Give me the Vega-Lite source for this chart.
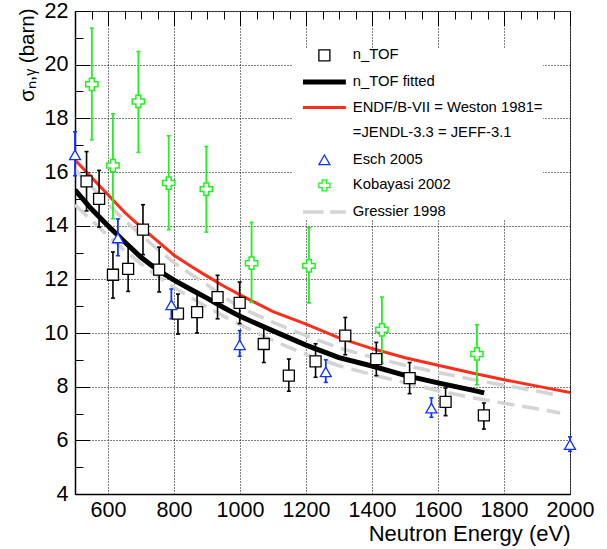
{
  "$schema": "https://vega.github.io/schema/vega-lite/v6.json",
  "width": 495,
  "height": 483,
  "autosize": "none",
  "padding": {"left": 75, "top": 11, "right": 37, "bottom": 55},
  "background": "white",
  "config": {
    "font": "Liberation Sans",
    "view": {"stroke": "#555", "strokeWidth": 1},
    "legend": {
      "orient": "none",
      "legendX": 218,
      "legendY": 37,
      "fillColor": "white",
      "padding": 0,
      "symbolOffset": 24,
      "symbolSize": 121,
      "symbolStrokeWidth": 1.3,
      "labelFont": "Liberation Sans",
      "labelFontSize": 14.8,
      "labelColor": "black",
      "labelOffset": 21,
      "labelLimit": 400,
      "rowPadding": 9.6
    }
  },
  "datasets": {
    "ntof": [
      {"E": 535, "s": 15.65, "lo": 14.55, "hi": 16.76},
      {"E": 573, "s": 15.0, "lo": 13.95, "hi": 16.06},
      {"E": 615, "s": 12.17, "lo": 11.3, "hi": 13.02},
      {"E": 661, "s": 12.39, "lo": 11.55, "hi": 13.24},
      {"E": 706, "s": 13.85, "lo": 12.92, "hi": 14.78},
      {"E": 755, "s": 12.36, "lo": 11.53, "hi": 13.2},
      {"E": 812, "s": 10.72, "lo": 9.96, "hi": 11.45},
      {"E": 870, "s": 10.78, "lo": 10.0, "hi": 11.53},
      {"E": 932, "s": 11.34, "lo": 10.53, "hi": 12.15},
      {"E": 999, "s": 11.12, "lo": 10.35, "hi": 11.9},
      {"E": 1072, "s": 9.59, "lo": 8.9, "hi": 10.27},
      {"E": 1148, "s": 8.41, "lo": 7.83, "hi": 9.03},
      {"E": 1229, "s": 8.94, "lo": 8.35, "hi": 9.6},
      {"E": 1319, "s": 9.9, "lo": 9.19, "hi": 10.58},
      {"E": 1413, "s": 9.03, "lo": 8.41, "hi": 9.65},
      {"E": 1514, "s": 8.32, "lo": 7.74, "hi": 8.9},
      {"E": 1623, "s": 7.43, "lo": 6.92, "hi": 7.95},
      {"E": 1739, "s": 6.93, "lo": 6.42, "hi": 7.39}
    ],
    "esch": [
      {"E": 500, "s": 16.64, "lo": 15.86, "hi": 17.5},
      {"E": 630, "s": 13.54, "lo": 12.88, "hi": 14.25},
      {"E": 792, "s": 11.05, "lo": 10.53, "hi": 11.64},
      {"E": 999, "s": 9.56, "lo": 9.13, "hi": 10.09},
      {"E": 1260, "s": 8.55, "lo": 8.16, "hi": 9.0},
      {"E": 1580, "s": 7.2, "lo": 6.86, "hi": 7.58},
      {"E": 2000, "s": 5.84, "lo": 5.59, "hi": 6.13}
    ],
    "koba": [
      {"E": 551, "s": 19.27, "lo": 17.2, "hi": 21.36},
      {"E": 615, "s": 16.24, "lo": 14.26, "hi": 18.17},
      {"E": 692, "s": 18.63, "lo": 16.73, "hi": 20.49},
      {"E": 784, "s": 15.59, "lo": 13.85, "hi": 17.35},
      {"E": 898, "s": 15.36, "lo": 13.76, "hi": 16.95},
      {"E": 1035, "s": 12.6, "lo": 11.14, "hi": 14.12},
      {"E": 1209, "s": 12.5, "lo": 11.12, "hi": 13.92},
      {"E": 1430, "s": 10.12, "lo": 8.88, "hi": 11.34},
      {"E": 1718, "s": 9.22, "lo": 8.07, "hi": 10.31}
    ],
    "fit": [
      {"E": 500, "s": 15.33}, {"E": 550, "s": 14.62}, {"E": 600, "s": 14.0},
      {"E": 650, "s": 13.4}, {"E": 700, "s": 12.82}, {"E": 750, "s": 12.35},
      {"E": 800, "s": 11.97}, {"E": 850, "s": 11.63}, {"E": 900, "s": 11.3},
      {"E": 950, "s": 10.95}, {"E": 1000, "s": 10.62}, {"E": 1100, "s": 10.08},
      {"E": 1200, "s": 9.55}, {"E": 1300, "s": 9.08}, {"E": 1400, "s": 8.77},
      {"E": 1500, "s": 8.42}, {"E": 1600, "s": 8.14}, {"E": 1700, "s": 7.88},
      {"E": 1740, "s": 7.77}
    ],
    "endf": [
      {"E": 500, "s": 16.45}, {"E": 550, "s": 15.8}, {"E": 600, "s": 15.15},
      {"E": 650, "s": 14.5}, {"E": 700, "s": 13.95}, {"E": 750, "s": 13.42},
      {"E": 800, "s": 12.9}, {"E": 850, "s": 12.5}, {"E": 900, "s": 12.12},
      {"E": 950, "s": 11.75}, {"E": 1000, "s": 11.42}, {"E": 1100, "s": 10.8},
      {"E": 1200, "s": 10.33}, {"E": 1300, "s": 9.82}, {"E": 1400, "s": 9.42},
      {"E": 1500, "s": 9.08}, {"E": 1600, "s": 8.8}, {"E": 1700, "s": 8.52},
      {"E": 1800, "s": 8.26}, {"E": 1900, "s": 8.02}, {"E": 2000, "s": 7.78}
    ],
    "gress": [
      {"band": "upper", "E": 500, "s": 16.1}, {"band": "upper", "E": 550, "s": 15.45},
      {"band": "upper", "E": 600, "s": 14.8}, {"band": "upper", "E": 650, "s": 14.2},
      {"band": "upper", "E": 700, "s": 13.65}, {"band": "upper", "E": 750, "s": 13.12},
      {"band": "upper", "E": 800, "s": 12.62}, {"band": "upper", "E": 850, "s": 12.2},
      {"band": "upper", "E": 900, "s": 11.8}, {"band": "upper", "E": 950, "s": 11.35},
      {"band": "upper", "E": 1000, "s": 10.95}, {"band": "upper", "E": 1100, "s": 10.4},
      {"band": "upper", "E": 1200, "s": 9.9}, {"band": "upper", "E": 1300, "s": 9.44},
      {"band": "upper", "E": 1400, "s": 9.1}, {"band": "upper", "E": 1500, "s": 8.8},
      {"band": "upper", "E": 1600, "s": 8.53}, {"band": "upper", "E": 1700, "s": 8.28},
      {"band": "upper", "E": 1800, "s": 8.05}, {"band": "upper", "E": 1900, "s": 7.84},
      {"band": "upper", "E": 1970, "s": 7.66},
      {"band": "lower", "E": 500, "s": 14.78}, {"band": "lower", "E": 550, "s": 14.2},
      {"band": "lower", "E": 600, "s": 13.62}, {"band": "lower", "E": 650, "s": 13.08},
      {"band": "lower", "E": 700, "s": 12.58}, {"band": "lower", "E": 750, "s": 12.12},
      {"band": "lower", "E": 800, "s": 11.7}, {"band": "lower", "E": 850, "s": 11.32},
      {"band": "lower", "E": 900, "s": 10.97}, {"band": "lower", "E": 950, "s": 10.63},
      {"band": "lower", "E": 1000, "s": 10.31}, {"band": "lower", "E": 1100, "s": 9.72},
      {"band": "lower", "E": 1200, "s": 9.2}, {"band": "lower", "E": 1300, "s": 8.78},
      {"band": "lower", "E": 1400, "s": 8.45}, {"band": "lower", "E": 1500, "s": 8.15},
      {"band": "lower", "E": 1600, "s": 7.85}, {"band": "lower", "E": 1700, "s": 7.6},
      {"band": "lower", "E": 1800, "s": 7.38}, {"band": "lower", "E": 1900, "s": 7.18},
      {"band": "lower", "E": 1970, "s": 7.02}
    ],
    "none": []
  },
  "encoding": {
    "x": {
      "field": "E", "type": "quantitative",
      "scale": {"domain": [500, 2000], "nice": false, "zero": false},
      "axis": {
        "orient": "bottom",
        "title": "Neutron Energy (eV)",
        "titleFontSize": 22, "titleFontWeight": "normal", "titleColor": "black",
        "titleX": 495, "titleY": 46, "titleAlign": "right", "titleBaseline": "alphabetic", "titleAngle": 0,
        "values": [500,550,600,650,700,750,800,850,900,950,1000,1050,1100,1150,1200,1250,1300,1350,1400,1450,1500,1550,1600,1650,1700,1750,1800,1850,1900,1950,2000],
        "format": "d",
        "labelExpr": "datum.value % 200 == 0 ? datum.label : ''",
        "labelFontSize": 21.5, "labelColor": "black", "labelPadding": 5,
        "labelFlush": false, "labelOverlap": false,
        "ticks": false, "tickSize": 0,
        "domainColor": "black", "domainWidth": 1.5,
        "grid": true, "gridColor": "black", "gridWidth": 1, "gridOpacity": 1,
        "gridDash": {
          "condition": {"test": "datum.value % 200 == 0", "value": [15,2,1,2,1,2,1,2,1,2,1,2,1,2,1,2,1,2,1,2,1,2,1,2,1,2,1,2,1,2,1,2,1,2,1,2,1,2,1,2,1,2,1,2,1,2,1,2,1,2,1,2,1,2,1,2,1,2,1,2,1,2,1,2,1,2,1,2,1,2,1,2,1,2,1,2,1,2,1,2,1,2,1,2,1,2,1,2,1,2,1,2,1,2,1,2,1,2,1,2,1,2,1,2,1,2,1,2,1,2,1,2,1,2,1,2,1,2,1,2,1,2,1,2,1,2,1,2,1,2,1,2,1,2,1,2,1,2,1,2,1,2,1,2,1,2,1,2,1,2,1,2,1,2,1,2,1,2,1,2,1,2,1,2,1,2,1,2,1,2,1,2,1,2,1,2,1,2,1,2,1,2,1,2,1,2,1,2,1,2,1,2,1,2,1,2,1,2,1,2,1,2,1,2,1,2,1,2,1,2,1,2,1,2,1,2,1,2,1,2,1,2,1,2,1,2,1,2,1,2,1,2,1,2,1,2,1,2,1,2,1,2,1,2,1,2,1,2,1,2,1,2,1,2,1,2,1,2,1,2,1,2,1,2,1,2,1,2,1,2,1,2,1,2,1,2,1,2,1,2,1,2,1,2,1,2,1,2,1,2,1,2,1,2,1,2,1,2,1,2,1,2,1,2,1,2,1,2,1,2,1,2,1,2,1,2,1,2,1,2,1,2,1,2,1,2,1,2,1,2,1,2,1,2,1,2,1,2,1,2,1,2,1,2]},
          "value": [8, 2000]
        }
      }
    },
    "y": {
      "field": "s", "type": "quantitative",
      "scale": {"domain": [4, 22], "nice": false, "zero": false},
      "axis": {
        "orient": "left",
        "title": "σₙ,ᵧ (barn)",
        "titleFontSize": 20.5, "titleFontWeight": "normal", "titleColor": "black",
        "titleX": -48, "titleY": -3, "titleAngle": -90, "titleAlign": "right", "titleBaseline": "middle",
        "values": [4,4.5,5,5.5,6,6.5,7,7.5,8,8.5,9,9.5,10,10.5,11,11.5,12,12.5,13,13.5,14,14.5,15,15.5,16,16.5,17,17.5,18,18.5,19,19.5,20,20.5,21,21.5,22],
        "format": "d",
        "labelExpr": "datum.value % 2 == 0 ? datum.label : ''",
        "labelFontSize": 21.5, "labelColor": "black", "labelPadding": 7,
        "labelFlush": false, "labelOverlap": false,
        "ticks": false, "tickSize": 0,
        "domainColor": "black", "domainWidth": 1.5,
        "grid": true, "gridColor": "black", "gridWidth": 1, "gridOpacity": 1,
        "gridDash": {
          "condition": {"test": "datum.value % 2 == 0", "value": [15,2,1,2,1,2,1,2,1,2,1,2,1,2,1,2,1,2,1,2,1,2,1,2,1,2,1,2,1,2,1,2,1,2,1,2,1,2,1,2,1,2,1,2,1,2,1,2,1,2,1,2,1,2,1,2,1,2,1,2,1,2,1,2,1,2,1,2,1,2,1,2,1,2,1,2,1,2,1,2,1,2,1,2,1,2,1,2,1,2,1,2,1,2,1,2,1,2,1,2,1,2,1,2,1,2,1,2,1,2,1,2,1,2,1,2,1,2,1,2,1,2,1,2,1,2,1,2,1,2,1,2,1,2,1,2,1,2,1,2,1,2,1,2,1,2,1,2,1,2,1,2,1,2,1,2,1,2,1,2,1,2,1,2,1,2,1,2,1,2,1,2,1,2,1,2,1,2,1,2,1,2,1,2,1,2,1,2,1,2,1,2,1,2,1,2,1,2,1,2,1,2,1,2,1,2,1,2,1,2,1,2,1,2,1,2,1,2,1,2,1,2,1,2,1,2,1,2,1,2,1,2,1,2,1,2,1,2,1,2,1,2,1,2,1,2,1,2,1,2,1,2,1,2,1,2,1,2,1,2,1,2,1,2,1,2,1,2,1,2,1,2,1,2,1,2,1,2,1,2,1,2,1,2,1,2,1,2,1,2,1,2,1,2,1,2,1,2,1,2,1,2,1,2,1,2,1,2,1,2,1,2,1,2,1,2,1,2,1,2,1,2,1,2,1,2,1,2,1,2,1,2,1,2,1,2,1,2,1,2,1,2,1,2,1,2]},
          "value": [8, 2000]
        }
      }
    }
  },
  "layer": [
    {
      "data": {"name": "gress"},
      "mark": {"type": "line", "color": "#d4d4d4", "strokeWidth": 3.5, "strokeDash": [17, 8], "clip": true},
      "encoding": {"detail": {"field": "band"}}
    },
    {
      "data": {"name": "endf"},
      "mark": {"type": "line", "color": "#ff2d1a", "strokeWidth": 3, "clip": true},
      "encoding": {}
    },
    {
      "data": {"name": "fit"},
      "mark": {"type": "line", "color": "black", "strokeWidth": 5, "clip": true},
      "encoding": {}
    },
    {
      "data": {"name": "ntof"},
      "mark": {"type": "rule", "color": "black", "strokeWidth": 1.6},
      "encoding": {"y": {"field": "lo", "type": "quantitative"}, "y2": {"field": "hi"}}
    },
    {
      "data": {"name": "ntof"},
      "transform": [{"fold": ["lo", "hi"], "as": ["end", "v"]}],
      "mark": {"type": "tick", "orient": "horizontal", "color": "black", "size": 4, "thickness": 1.6, "opacity": 1},
      "encoding": {"y": {"field": "v", "type": "quantitative"}}
    },
    {
      "data": {"name": "esch"},
      "mark": {"type": "rule", "color": "#1133ff", "strokeWidth": 1.8},
      "encoding": {"y": {"field": "lo", "type": "quantitative"}, "y2": {"field": "hi"}}
    },
    {
      "data": {"name": "esch"},
      "transform": [{"fold": ["lo", "hi"], "as": ["end", "v"]}],
      "mark": {"type": "tick", "orient": "horizontal", "color": "#1133ff", "size": 4, "thickness": 1.6, "opacity": 1},
      "encoding": {"y": {"field": "v", "type": "quantitative"}}
    },
    {
      "data": {"name": "koba"},
      "mark": {"type": "rule", "color": "#22ee22", "strokeWidth": 1.8},
      "encoding": {"y": {"field": "lo", "type": "quantitative"}, "y2": {"field": "hi"}}
    },
    {
      "data": {"name": "koba"},
      "transform": [{"fold": ["lo", "hi"], "as": ["end", "v"]}],
      "mark": {"type": "tick", "orient": "horizontal", "color": "#22ee22", "size": 4, "thickness": 1.6, "opacity": 1},
      "encoding": {"y": {"field": "v", "type": "quantitative"}}
    },
    {
      "data": {"name": "ntof"},
      "mark": {"type": "point", "shape": "square", "size": 121, "filled": true, "fill": "white", "stroke": "black", "strokeWidth": 1.3, "opacity": 1},
      "encoding": {}
    },
    {
      "data": {"name": "esch"},
      "mark": {"type": "point", "shape": "triangle-up", "size": 120, "filled": true, "fill": "white", "stroke": "#1133ff", "strokeWidth": 1.3, "opacity": 1},
      "encoding": {}
    },
    {
      "data": {"name": "koba"},
      "mark": {"type": "point", "shape": "cross", "size": 150, "filled": true, "fill": "white", "stroke": "#22ee22", "strokeWidth": 1.5, "opacity": 1},
      "encoding": {}
    },
    {
      "data": {"name": "none"},
      "mark": {"type": "point", "filled": true, "opacity": 1, "strokeWidth": 1.3},
      "encoding": {
        "x": {"value": 0},
        "y": {"value": 0},
        "shape": {
          "field": "series", "type": "nominal", "title": null,
          "scale": {
            "domain": ["n_TOF", "n_TOF fitted", "ENDF/B-VII = Weston 1981=", "=JENDL-3.3 = JEFF-3.1", "Esch 2005", "Kobayasi 2002", "Gressier 1998"],
            "range": ["square", "M-3.9,-0.45H3.9V0.45H-3.9Z", "M-3.9,-0.27H3.9V0.27H-3.9Z", "square", "triangle-up", "cross", "M-3.9,-0.32H-0.15V0.32H-3.9Z M1.05,-0.32H3.9V0.32H1.05Z"]
          }
        },
        "fill": {
          "field": "series", "type": "nominal", "title": null,
          "scale": {
            "domain": ["n_TOF", "n_TOF fitted", "ENDF/B-VII = Weston 1981=", "=JENDL-3.3 = JEFF-3.1", "Esch 2005", "Kobayasi 2002", "Gressier 1998"],
            "range": ["transparent", "black", "#ff2d1a", "transparent", "transparent", "transparent", "#d4d4d4"]
          }
        },
        "stroke": {
          "field": "series", "type": "nominal", "title": null,
          "scale": {
            "domain": ["n_TOF", "n_TOF fitted", "ENDF/B-VII = Weston 1981=", "=JENDL-3.3 = JEFF-3.1", "Esch 2005", "Kobayasi 2002", "Gressier 1998"],
            "range": ["black", "transparent", "transparent", "transparent", "#1133ff", "#22ee22", "transparent"]
          }
        }
      }
    }
  ]
}
